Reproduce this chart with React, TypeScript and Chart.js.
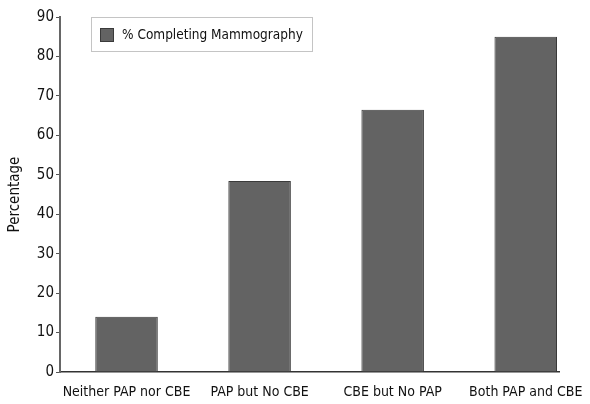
import React, { useEffect, useRef } from "react";
import { Chart, registerables } from "chart.js";

Chart.register(...registerables);

const categories = [
  "Neither PAP nor CBE",
  "PAP but No CBE",
  "CBE but No PAP",
  "Both PAP and CBE",
];
const mammographyPct = [14, 48.4, 66.5, 85];
const seriesLabel = "% Completing Mammography";
const yTicks = [0, 10, 20, 30, 40, 50, 60, 70, 80, 90];

const FONT = "'Liberation Sans Narrow', 'DejaVu Sans Condensed', 'Roboto', sans-serif";
const BAR_FILL = "#636363";
const BAR_EDGE = "#3a3a3a";

// boxed legend sitting inside the plot, top-left
const boxedLegend = {
  id: "boxedLegend",
  afterDraw(chart: any) {
    const { ctx, chartArea } = chart;
    const label = chart.data.datasets[0].label;
    const x = chartArea.left + 31;
    const y = chartArea.top;
    ctx.save();
    ctx.fillStyle = "#fff";
    ctx.fillRect(x, y, 221, 34);
    ctx.strokeStyle = "#c4c4c4";
    ctx.lineWidth = 1;
    ctx.strokeRect(x + 0.5, y + 0.5, 221, 34);
    ctx.fillStyle = BAR_FILL;
    ctx.fillRect(x + 9, y + 11, 14, 14);
    ctx.strokeStyle = BAR_EDGE;
    ctx.strokeRect(x + 9.5, y + 11.5, 13, 13);
    ctx.fillStyle = "#111";
    ctx.font = `13.5px ${FONT}`;
    ctx.textBaseline = "middle";
    ctx.fillText(label, x + 31, y + 18);
    ctx.restore();
  },
};

export default function App() {
  const chartRef = useRef<HTMLCanvasElement | null>(null);

  useEffect(() => {
    const ctx = chartRef.current?.getContext("2d");
    if (!ctx) return;

    const myChart = new Chart(ctx, {
      type: "bar",
      data: {
        labels: categories,
        datasets: [
          {
            label: seriesLabel,
            data: mammographyPct,
            backgroundColor: BAR_FILL,
            borderColor: BAR_EDGE,
            borderWidth: 1,
            categoryPercentage: 1,
            barPercentage: 0.47,
          },
        ],
      },
      options: {
        animation: false,
        responsive: true,
        maintainAspectRatio: false,
        layout: { padding: { top: 17, right: 31, left: 0, bottom: 0 } },
        plugins: {
          legend: { display: false },
          tooltip: { enabled: false },
        },
        scales: {
          x: {
            grid: { display: false },
            border: { display: true, color: "#333", width: 1.5 },
            ticks: {
              color: "#111",
              font: { family: FONT, size: 14 },
              padding: 4,
              maxRotation: 0,
              autoSkip: false,
            },
            // leave a little less room after the last bar than before the first
            afterBuildTicks: (scale: any) => {
              scale._startValue = -0.5;
              scale._valueRange = 3.75;
            },
            afterFit: (scale: any) => {
              scale.height = 32;
            },
          },
          y: {
            min: 0,
            max: 90,
            afterBuildTicks: (scale: any) => {
              scale.ticks = yTicks.map((v) => ({ value: v }));
            },
            grid: {
              display: true,
              drawOnChartArea: false,
              drawTicks: true,
              tickLength: 4,
              color: "#555",
            },
            border: { display: true, color: "#666", width: 2 },
            ticks: {
              color: "#111",
              font: { family: FONT, size: 15 },
              padding: 2,
            },
            title: {
              display: true,
              text: "Percentage",
              color: "#111",
              font: { family: FONT, size: 15 },
              padding: { top: 6, bottom: 0 },
            },
            afterFit: (scale: any) => {
              scale.width = 60;
            },
          },
        },
      },
      plugins: [boxedLegend],
    });

    return () => {
      myChart.destroy();
    };
  }, []);

  return (
    <div style={{ position: "absolute", left: 0, top: 0, width: 590, height: 404, background: "#fff" }}>
      <canvas ref={chartRef}></canvas>
    </div>
  );
}
